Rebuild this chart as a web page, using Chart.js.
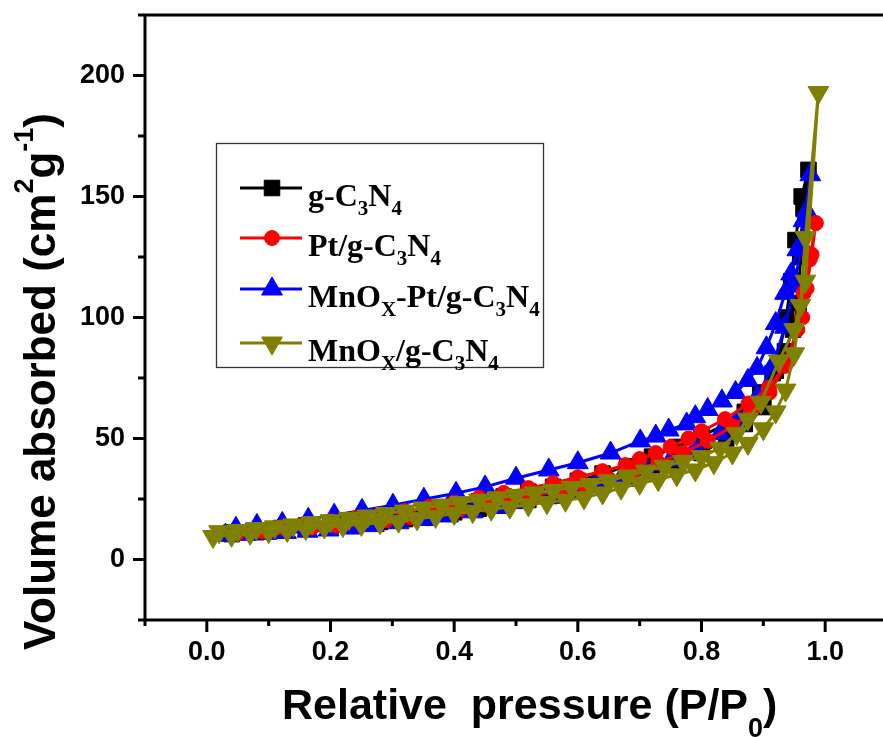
<!DOCTYPE html>
<html>
<head>
<meta charset="utf-8">
<script src="https://cdn.jsdelivr.net/npm/chart.js@4.4.1/dist/chart.umd.min.js"></script>
<style>
  html, body { margin: 0; padding: 0; overflow: hidden; background: #fff; }
  #iso { display: block; }
</style>
</head>
<body>
<canvas id="iso" width="900" height="737"></canvas>
<script>
// N2 isotherms: adsorption branch (P up) followed by desorption branch (P down)
const gcnPressure = [0.04,0.08,0.12,0.16,0.2,0.24,0.28,0.32,0.36,0.4,0.44,0.48,0.52,0.56,0.6,0.64,0.68,0.72,0.76,0.8,0.84,0.87,0.9,0.92,0.937,0.945,0.952,0.962,0.973,
  0.965,0.96,0.957,0.948,0.935,0.915,0.895,0.87,0.84,0.8,0.76,0.72,0.68,0.64,0.6,0.56,0.52,0.48,0.44,0.4,0.36,0.32,0.28,0.24,0.2,0.16,0.12,0.08,0.04];
const gcnVolume = [10.5,11.3,12,12.8,13.6,14.5,15.5,16.7,18,19.5,21,22.8,24.6,26.5,28.5,30.8,33.5,36.5,40,44,50,56,63,78,100,115,132,150,161,
  145,125,106,95,86,77,69,61,56,51,46.5,42.5,38.5,35.5,32.5,30,28,26,24,22.3,20.6,19,17.6,16.3,15.1,14,13,12,11.2];

const ptPressure = [0.05,0.09,0.13,0.17,0.21,0.25,0.29,0.33,0.37,0.41,0.45,0.49,0.53,0.57,0.61,0.65,0.69,0.73,0.77,0.81,0.85,0.88,0.91,0.935,0.955,0.965,0.975,0.985,
  0.978,0.97,0.963,0.94,0.909,0.876,0.838,0.8,0.779,0.75,0.726,0.7,0.677,0.64,0.6,0.56,0.52,0.48,0.44,0.4,0.36,0.32,0.28,0.24,0.2,0.16,0.12,0.08,0.05];
const ptVolume = [11,11.7,12.4,13.2,14,15,16.2,17.5,19,20.8,22.6,24.5,26.5,28.5,30.8,33.3,36.5,40,44,49,55,61,69,80,95,110,124,139,
  126,112,100,82,71,64.5,58,53,50,46.5,44,41.5,39,36.5,34,31.5,29.5,27.5,25.5,23.5,21.8,20,18.5,17,15.8,14.5,13.3,12.2,11.5];

const mnPtPressure = [0.03,0.064,0.096,0.128,0.163,0.197,0.235,0.27,0.31,0.35,0.39,0.43,0.47,0.51,0.55,0.59,0.63,0.67,0.71,0.75,0.79,0.83,0.86,0.89,0.915,0.935,0.95,0.962,0.97,0.976,
  0.965,0.955,0.945,0.935,0.92,0.905,0.89,0.875,0.855,0.833,0.81,0.79,0.776,0.747,0.726,0.701,0.653,0.6,0.553,0.5,0.45,0.403,0.351,0.301,0.251,0.206,0.164,0.122,0.081,0.047];
const mnPtVolume = [10,10.4,10.8,11.2,11.7,12.2,13,14,15.2,16.5,18,19.7,21.5,23.5,25.5,28,30.5,33.5,37,41,46,52,58,67,80,96,113,130,144,159,
  140,128,118,110,97.5,87.5,79,74,69,65.5,62,59,56,53.5,51,49,44,40,37,33.6,30,27.4,24.9,22.4,20.3,18.3,16.6,14.9,14.1,12.9];

const mnPressure = [0.01,0.04,0.07,0.1,0.13,0.16,0.19,0.22,0.25,0.28,0.31,0.34,0.37,0.4,0.43,0.46,0.49,0.52,0.55,0.58,0.61,0.64,0.67,0.7,0.73,0.76,0.79,0.82,0.85,0.875,0.9,0.92,0.936,0.95,0.96,0.968,0.989,
  0.968,0.95,0.925,0.896,0.875,0.857,0.83,0.8,0.77,0.74,0.71,0.68,0.65,0.62,0.59,0.56,0.53,0.5,0.47,0.44,0.41,0.38,0.35,0.32,0.29,0.26,0.23,0.2,0.17,0.14,0.11,0.08,0.05,0.02];
const mnVolume = [9.5,10,10.8,11.5,12,12.8,13.4,14,14.5,15.2,15.8,16.8,17.8,19,19.8,20.8,21.6,22.6,23.5,24.5,25.5,27.5,29.5,31.5,33,35,37,40,44,48,54,61,70,85,105,133,193,
  115,95,82,65,58,52,46,42.5,40.5,38.5,36.5,34.5,32.5,31,29.8,28.5,27.5,26.5,25.5,24.5,23.5,22.5,21.3,20,19,18,17,16,15.2,14.3,13.5,12.8,12,11.5];

// tick labels shown on the axes
const xTickLabels = ['0.0', '0.2', '0.4', '0.6', '0.8', '1.0'];
const yTickLabels = ['0', '50', '100', '150', '200'];

// legend text, [text, isSubscript]
const legendLabels = [
  [['g-C', 0], ['3', 1], ['N', 0], ['4', 1]],
  [['Pt/g-C', 0], ['3', 1], ['N', 0], ['4', 1]],
  [['MnO', 0], ['X', 1], ['-Pt/g-C', 0], ['3', 1], ['N', 0], ['4', 1]],
  [['MnO', 0], ['X', 1], ['/g-C', 0], ['3', 1], ['N', 0], ['4', 1]]
];

function toPoints(px, py) {
  return px.map((p, i) => ({ x: p, y: py[i] }));
}

function series(label, px, py, color, style, radius, rotation, order) {
  return {
    label: label,
    data: toPoints(px, py),
    showLine: true,
    borderColor: color,
    backgroundColor: color,
    borderWidth: 3,
    pointStyle: style,
    pointRadius: radius,
    pointRotation: rotation,
    pointBackgroundColor: color,
    pointBorderColor: color,
    pointBorderWidth: 1,
    pointHoverRadius: radius,
    order: order
  };
}

const datasets = [
  series('g-C3N4', gcnPressure, gcnVolume, '#000000', 'rect', 11, 0, 4),
  series('Pt/g-C3N4', ptPressure, ptVolume, '#ff0000', 'circle', 7.5, 0, 2),
  series('MnOx-Pt/g-C3N4', mnPtPressure, mnPtVolume, '#0000ff', 'triangle', 12, 0, 3),
  series('MnOx/g-C3N4', mnPressure, mnVolume, '#808000', 'triangle', 12, 180, 1)
];

// frame, major/minor ticks, axis titles and the legend box
const decorations = {
  id: 'decorations',
  afterDraw(chart) {
    const ctx = chart.ctx;
    const a = chart.chartArea;
    const xs = chart.scales.x, ys = chart.scales.y;
    ctx.save();
    ctx.strokeStyle = '#000';
    ctx.lineWidth = 3;
    ctx.beginPath();
    ctx.moveTo(a.left, a.top); ctx.lineTo(a.right, a.top);
    ctx.moveTo(a.left, a.top - 1.5); ctx.lineTo(a.left, a.bottom + 1.5);
    ctx.moveTo(a.left, a.bottom); ctx.lineTo(a.right, a.bottom);
    ys.ticks.forEach((t, i) => {
      const py = ys.getPixelForTick(i);
      const len = yTickLabels.includes(String(t.value)) ? 12 : 7;
      ctx.moveTo(a.left - len, py); ctx.lineTo(a.left, py);
    });
    xs.ticks.forEach((t, i) => {
      const px = xs.getPixelForTick(i);
      const len = xTickLabels.includes(t.value.toFixed(1)) ? 12 : 6;
      ctx.moveTo(px, a.bottom); ctx.lineTo(px, a.bottom + len);
    });
    ctx.stroke();

    // x title
    ctx.fillStyle = '#000';
    ctx.textBaseline = 'alphabetic';
    ctx.textAlign = 'left';
    let x = 282;
    ctx.font = 'bold 43px "Liberation Sans", Arial';
    const xMain = 'Relative  pressure (P/P';
    ctx.fillText(xMain, x, 719);
    x += ctx.measureText(xMain).width;
    ctx.font = 'bold 27px "Liberation Sans", Arial';
    ctx.fillText('0', x, 737);
    x += ctx.measureText('0').width;
    ctx.font = 'bold 43px "Liberation Sans", Arial';
    ctx.fillText(')', x, 719);

    // y title, rotated
    ctx.save();
    ctx.translate(55, 650);
    ctx.rotate(-Math.PI / 2);
    const ySegs = [['Volume absorbed (cm', 0], ['2', 1], ['g', 0], ['-1', 1], [')', 0]];
    let ly = 0;
    ySegs.forEach(s => {
      ctx.font = s[1] ? 'bold 27px "Liberation Sans", Arial' : 'bold 44px "Liberation Sans", Arial';
      ctx.fillText(s[0], ly, s[1] ? -22 : 0);
      ly += ctx.measureText(s[0]).width;
    });
    ctx.restore();

    // legend
    ctx.lineWidth = 1.3;
    ctx.strokeStyle = '#333';
    ctx.strokeRect(216.5, 143.5, 327, 224);
    const rows = [188, 238, 289, 343];
    chart.data.datasets.forEach((ds, i) => {
      const y = rows[i];
      ctx.strokeStyle = ds.borderColor;
      ctx.lineWidth = 3;
      ctx.beginPath();
      ctx.moveTo(240, y); ctx.lineTo(302, y);
      ctx.stroke();
      ctx.fillStyle = ds.pointBackgroundColor;
      ctx.lineWidth = 1;
      Chart.helpers.drawPoint(ctx, {
        pointStyle: ds.pointStyle, radius: ds.pointRadius,
        rotation: ds.pointRotation, borderWidth: 1
      }, 272, y);
      ctx.fillStyle = '#000';
      let tx = 308;
      legendLabels[i].forEach(s => {
        ctx.font = s[1] ? 'bold 21px "Liberation Serif", "Times New Roman"' : 'bold 32px "Liberation Serif", "Times New Roman"';
        ctx.fillText(s[0], tx, y + 18 + (s[1] ? 9 : 0));
        tx += ctx.measureText(s[0]).width;
      });
    });
    ctx.restore();
  }
};

function noPad(s) {
  s.paddingTop = 0;
  s.paddingBottom = 0;
  s.paddingLeft = 0;
  s.paddingRight = 0;
}

new Chart(document.getElementById('iso'), {
  type: 'scatter',
  data: { datasets: datasets },
  options: {
    responsive: false,
    animation: false,
    layout: { padding: { top: 15, right: 11, left: 0, bottom: 0 } },
    plugins: {
      legend: { display: false },
      tooltip: { enabled: false }
    },
    scales: {
      x: {
        type: 'linear',
        min: -0.1,
        max: 1.1,
        afterFit: s => { s.height = 117; noPad(s); },
        border: { display: false },
        grid: { display: true, drawOnChartArea: false, drawTicks: false },
        ticks: {
          stepSize: 0.1,
          autoSkip: false,
          maxRotation: 0,
          padding: 16,
          color: '#000',
          font: { family: '"Liberation Sans", Arial', size: 27, weight: 'bold' },
          callback: v => {
            const s = v.toFixed(1);
            return xTickLabels.includes(s) ? s : '';
          }
        }
      },
      y: {
        type: 'linear',
        min: -25,
        max: 225,
        afterFit: s => { s.width = 145; noPad(s); },
        border: { display: false },
        grid: { display: true, drawOnChartArea: false, drawTicks: false },
        ticks: {
          stepSize: 25,
          autoSkip: false,
          padding: 20,
          color: '#000',
          font: { family: '"Liberation Sans", Arial', size: 27, weight: 'bold' },
          callback: v => yTickLabels.includes(String(v)) ? String(v) : ''
        }
      }
    }
  },
  plugins: [decorations]
});
</script>
</body>
</html>
